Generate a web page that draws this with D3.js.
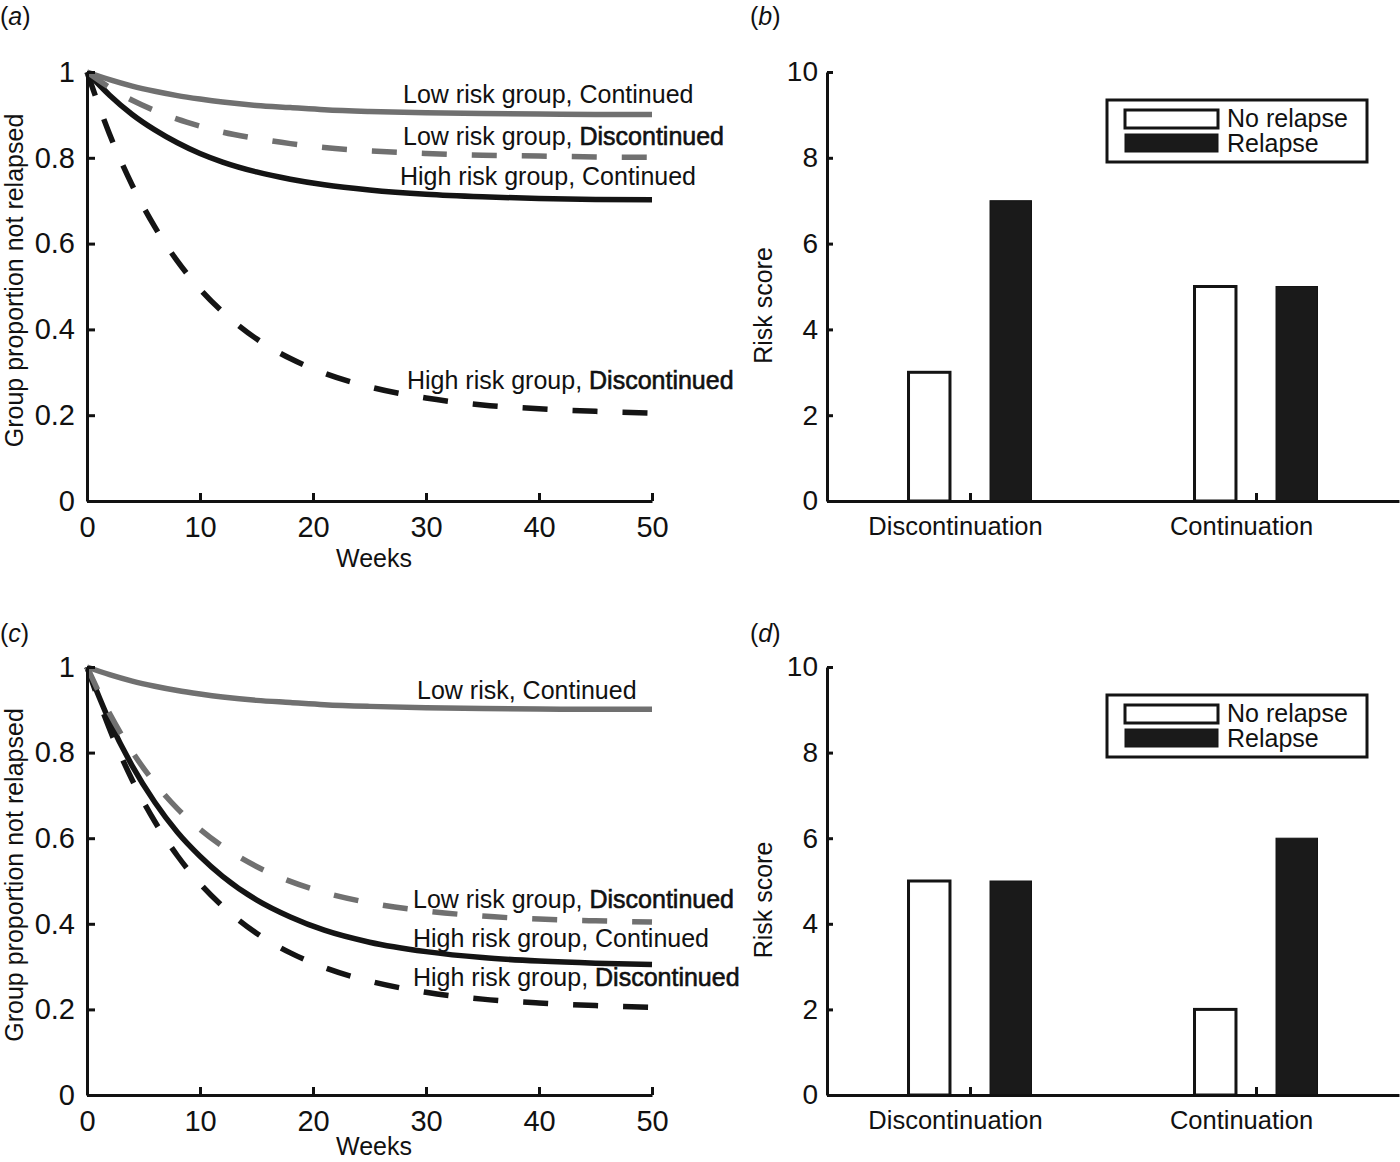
<!DOCTYPE html>
<html>
<head>
<meta charset="utf-8">
<script src="https://cdn.jsdelivr.net/npm/d3@7"></script>
<style>
  html, body { margin: 0; padding: 0; background: #fff; }
  svg { display: block; font-family: "Liberation Sans", Arial, Helvetica, sans-serif; }
  .axis path, .axis line { stroke: #111; stroke-width: 3; }
  .axis text { fill: #111; }
  .lbl { font-size: 25px; fill: #111; }
  .bold { stroke: #111; stroke-width: 0.6; }
</style>
</head>
<body>
<div id="chart"></div>
<script>
const weeks = [0, 2, 4, 6, 8, 10, 12, 15, 18, 21, 25, 30, 35, 40, 45, 50];

// panel (a)
const aLowCont  = [1, 0.982, 0.967, 0.955, 0.945, 0.937, 0.930, 0.922, 0.917, 0.912, 0.908, 0.905, 0.903, 0.902, 0.901, 0.901];
const aLowDisc  = [1, 0.964, 0.934, 0.910, 0.890, 0.874, 0.860, 0.845, 0.833, 0.824, 0.816, 0.810, 0.806, 0.804, 0.802, 0.801];
const aHighCont = [1, 0.946, 0.901, 0.865, 0.835, 0.810, 0.790, 0.767, 0.750, 0.737, 0.725, 0.715, 0.709, 0.705, 0.703, 0.702];
const aHighDisc = [1, 0.855, 0.736, 0.639, 0.559, 0.494, 0.441, 0.378, 0.332, 0.298, 0.266, 0.240, 0.224, 0.215, 0.209, 0.205];

// panel (c)
const cLowCont  = [1, 0.982, 0.967, 0.955, 0.945, 0.937, 0.930, 0.922, 0.917, 0.912, 0.908, 0.905, 0.903, 0.902, 0.901, 0.901];
const cLowDisc  = [1, 0.891, 0.802, 0.729, 0.669, 0.621, 0.581, 0.534, 0.499, 0.473, 0.449, 0.430, 0.418, 0.411, 0.407, 0.404];
const cHighCont = [1, 0.873, 0.769, 0.684, 0.614, 0.558, 0.511, 0.456, 0.416, 0.385, 0.357, 0.335, 0.321, 0.313, 0.308, 0.305];
const cHighDisc = [1, 0.855, 0.736, 0.639, 0.559, 0.494, 0.441, 0.378, 0.332, 0.298, 0.266, 0.240, 0.224, 0.215, 0.209, 0.205];

// bar panels
const categories = ["Discontinuation", "Continuation"];
const bNoRelapse = [3, 5];
const bRelapse   = [7, 5];
const dNoRelapse = [5, 2];
const dRelapse   = [5, 6];
const legendLabels = ["No relapse", "Relapse"];

const weekTicks = [0, 10, 20, 30, 40, 50];
const propTicks = [0, 0.2, 0.4, 0.6, 0.8, 1];
const scoreTicks = [0, 2, 4, 6, 8, 10];

const GRAY = "#707070";
const DARK = "#141414";

const svg = d3.select("#chart").append("svg")
    .attr("width", 1400)
    .attr("height", 1162);

function panelTag(x, y, letter) {
    const t = svg.append("text").attr("class", "lbl").attr("x", x).attr("y", y);
    t.append("tspan").text("(");
    t.append("tspan").attr("font-style", "italic").text(letter);
    t.append("tspan").text(")");
}

function curvePanel(top, bottom, series, labels, weeksLabelY) {
    const x = d3.scaleLinear().domain([0, 50]).range([87, 652]);
    const y = d3.scaleLinear().domain([0, 1]).range([bottom, top]);

    const line = d3.line()
        .x((d, i) => x(weeks[i]))
        .y(d => y(d))
        .curve(d3.curveMonotoneX);

    series.forEach(s => {
        svg.append("path")
            .datum(s.values)
            .attr("d", line)
            .attr("fill", "none")
            .attr("stroke", s.color)
            .attr("stroke-width", 5.5)
            .attr("stroke-dasharray", s.dashed ? "25 25" : null);
    });

    svg.append("g")
        .attr("class", "axis")
        .attr("transform", `translate(0,${bottom})`)
        .call(d3.axisBottom(x).tickValues(weekTicks).tickSizeInner(-8).tickSizeOuter(0).tickPadding(15))
        .attr("font-family", null).attr("font-size", 29);

    svg.append("g")
        .attr("class", "axis")
        .attr("transform", "translate(87,0)")
        .call(d3.axisLeft(y).tickValues(propTicks).tickFormat(d3.format("~g")).tickSizeInner(-8).tickSizeOuter(0).tickPadding(12))
        .attr("font-family", null).attr("font-size", 29);

    labels.forEach(l => {
        const t = svg.append("text").attr("class", "lbl").attr("x", l.x).attr("y", l.y);
        t.append("tspan").text(l.text);
        if (l.bold) t.append("tspan").attr("class", "bold").text(l.bold);
    });

    svg.append("text")
        .attr("class", "lbl")
        .attr("text-anchor", "middle")
        .attr("x", 374)
        .attr("y", weeksLabelY)
        .text("Weeks");

    svg.append("text")
        .attr("class", "lbl")
        .attr("text-anchor", "middle")
        .attr("transform", `translate(23,${(top + bottom) / 2 - 6}) rotate(-90)`)
        .text("Group proportion not relapsed");
}

function barPanel(top, bottom, noRelapse, relapse) {
    const x = d3.scaleLinear().domain([0.5, 2.5]).range([827, 1399]);
    const y = d3.scaleLinear().domain([0, 10]).range([bottom, top]);
    const off = 0.1425, bw = 0.145;

    const rows = categories.map((c, i) => ({ c, pos: i + 1, no: noRelapse[i], yes: relapse[i] }));

    svg.append("g").selectAll("rect")
        .data(rows)
        .join("rect")
        .attr("x", d => x(d.pos - off - bw / 2))
        .attr("width", x(bw) - x(0))
        .attr("y", d => y(d.no))
        .attr("height", d => y(0) - y(d.no))
        .attr("fill", "#fff")
        .attr("stroke", DARK)
        .attr("stroke-width", 3);

    svg.append("g").selectAll("rect")
        .data(rows)
        .join("rect")
        .attr("x", d => x(d.pos + off - bw / 2))
        .attr("width", x(bw) - x(0))
        .attr("y", d => y(d.yes))
        .attr("height", d => y(0) - y(d.yes))
        .attr("fill", "#1a1a1a")
        .attr("stroke", DARK)
        .attr("stroke-width", 1);

    svg.append("g")
        .attr("class", "axis")
        .attr("transform", `translate(0,${bottom})`)
        .call(d3.axisBottom(x).tickValues([1, 2]).tickFormat((d, i) => categories[i]).tickSizeInner(-8).tickSizeOuter(0).tickPadding(16))
        .attr("font-family", null).attr("font-size", 25.5)
        .call(g => g.selectAll(".tick text").attr("dx", -15));

    svg.append("g")
        .attr("class", "axis")
        .attr("transform", "translate(827,0)")
        .call(d3.axisLeft(y).tickValues(scoreTicks).tickSizeInner(-6).tickSizeOuter(0).tickPadding(9))
        .attr("font-family", null).attr("font-size", 28);

    svg.append("text")
        .attr("class", "lbl")
        .attr("text-anchor", "middle")
        .attr("transform", `translate(772,${(top + bottom) / 2 + 19}) rotate(-90)`)
        .text("Risk score");

    // legend
    const lg = svg.append("g").attr("transform", `translate(1107,${top + 28})`);
    lg.append("rect")
        .attr("width", 260).attr("height", 62)
        .attr("fill", "#fff").attr("stroke", DARK).attr("stroke-width", 3);
    const fills = ["#fff", "#1a1a1a"];
    legendLabels.forEach((name, i) => {
        lg.append("rect")
            .attr("x", 18).attr("y", 10 + i * 24)
            .attr("width", 93).attr("height", 18)
            .attr("fill", fills[i]).attr("stroke", DARK).attr("stroke-width", i ? 1 : 3);
        lg.append("text")
            .attr("class", "lbl")
            .attr("font-size", 24)
            .attr("x", 120).attr("y", 27 + i * 25)
            .text(name);
    });
}

curvePanel(72, 501, [
    { values: aHighDisc, color: DARK, dashed: true },
    { values: aHighCont, color: DARK, dashed: false },
    { values: aLowDisc, color: GRAY, dashed: true },
    { values: aLowCont, color: GRAY, dashed: false }
], [
    { x: 403, y: 103, text: "Low risk group, Continued" },
    { x: 403, y: 145, text: "Low risk group, ", bold: "Discontinued" },
    { x: 400, y: 185, text: "High risk group, Continued" },
    { x: 407, y: 389, text: "High risk group, ", bold: "Discontinued" }
], 567);

curvePanel(667, 1095, [
    { values: cHighDisc, color: DARK, dashed: true },
    { values: cHighCont, color: DARK, dashed: false },
    { values: cLowDisc, color: GRAY, dashed: true },
    { values: cLowCont, color: GRAY, dashed: false }
], [
    { x: 417, y: 699, text: "Low risk, Continued" },
    { x: 413, y: 908, text: "Low risk group, ", bold: "Discontinued" },
    { x: 413, y: 947, text: "High risk group, Continued" },
    { x: 413, y: 986, text: "High risk group, ", bold: "Discontinued" }
], 1155);

barPanel(72, 501, bNoRelapse, bRelapse);
barPanel(667, 1095, dNoRelapse, dRelapse);

panelTag(0, 25, "a");
panelTag(750, 25, "b");
panelTag(0, 642, "c");
panelTag(750, 642, "d");
</script>
</body>
</html>
